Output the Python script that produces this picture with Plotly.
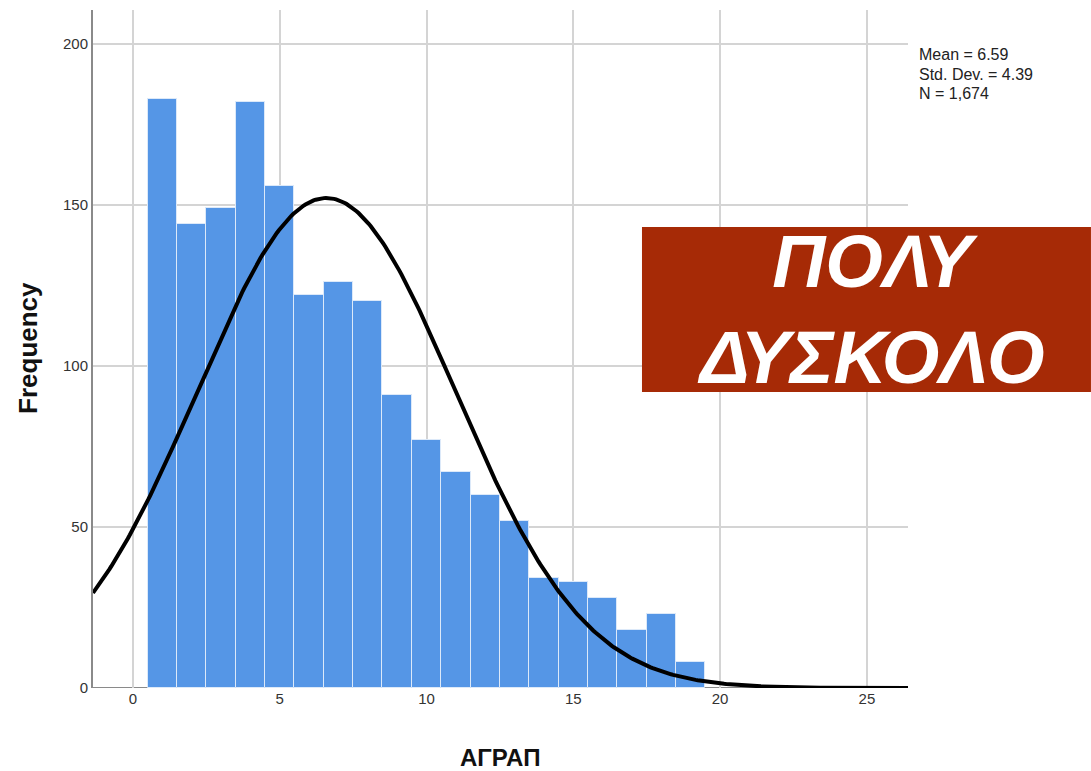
import numpy as np
import plotly.graph_objects as go

# Histogram data (bin centres, counts)
bin_centers = list(range(1, 20))
counts = [183, 144, 149, 182, 156, 122, 126, 120, 91, 77, 67, 60, 52, 34, 33, 28, 18, 23, 8]

# Summary statistics printed on the chart
mean_val = 6.59
sd_val = 4.39
n_val = 1674
stats_lines = ["Mean = 6.59", "Std. Dev. = 4.39", "N = 1,674"]

x_ticks = [0, 5, 10, 15, 20, 25]
y_ticks = [0, 50, 100, 150, 200]

x_range = [-1.36, 26.4]
y_range = [0, 210.5]

# Fitted normal curve (from stated mean / sd / N, bin width 1)
xc = np.linspace(x_range[0], x_range[1], 400)
yc = n_val * 1.0 / (sd_val * np.sqrt(2 * np.pi)) * np.exp(-0.5 * ((xc - mean_val) / sd_val) ** 2)

fig = go.Figure()
fig.add_trace(go.Bar(
    x=bin_centers, y=counts, width=1,
    marker=dict(color="#5596E6", line=dict(color="#DCE9F9", width=1)),
    hoverinfo="x+y",
))
fig.add_trace(go.Scatter(
    x=xc, y=yc, mode="lines",
    line=dict(color="black", width=4),
    hoverinfo="skip",
))

fig.update_layout(
    width=1091, height=771,
    margin=dict(l=93, r=183, t=10, b=83),
    plot_bgcolor="white", paper_bgcolor="white",
    showlegend=False,
    bargap=0,
    font=dict(family="Liberation Sans, Arial, sans-serif", color="#222"),
    xaxis=dict(
        range=x_range, tickvals=x_ticks, showgrid=True, gridcolor="#D4D4D4", gridwidth=1.5,
        zeroline=False, showline=False,
        tickfont=dict(size=15, color="#333"), ticks="",
    ),
    yaxis=dict(
        range=y_range, tickvals=y_ticks, showgrid=True, gridcolor="#D4D4D4", gridwidth=1.5,
        zeroline=False, showline=True, linecolor="#8A8A8A", linewidth=2,
        tickfont=dict(size=15, color="#333"), ticks="",
    ),
)

# bottom axis line at y=0
fig.add_shape(type="line", xref="paper", yref="y", x0=0, x1=1, y0=0, y1=0,
              line=dict(color="#8A8A8A", width=2), layer="below")

# axis titles
fig.add_annotation(xref="paper", yref="paper", x=0.4994, y=-0.1018,
                   xanchor="center", yanchor="middle", showarrow=False,
                   text="<b>ΑΓΡΑΠ</b>", font=dict(size=24, color="#111"))
fig.add_annotation(xref="paper", yref="paper", x=-0.0798, y=0.5015,
                   xanchor="center", yanchor="middle", showarrow=False, textangle=-90,
                   text="<b>Frequency</b>", font=dict(size=26, color="#111"))

# statistics text
for i, line in enumerate(stats_lines):
    fig.add_annotation(
        xref="paper", yref="paper", x=1.0115, y=(688 - 55 - 19 * i) / 678,
        xanchor="left", yanchor="middle", align="left", showarrow=False,
        text=line,
        font=dict(size=16, color="#222", family="Liberation Sans Narrow, Liberation Sans, Arial"),
    )

# red label box
fig.add_shape(type="rect", xref="paper", yref="paper",
              x0=0.6736, x1=1.2245, y0=0.4366, y1=0.680,
              fillcolor="#A62A06", line=dict(width=0), layer="above")
fig.add_annotation(
    xref="paper", yref="paper", x=(0.6736 + 1.2245) / 2 + 0.005, y=(0.4366 + 0.680) / 2,
    xanchor="center", yanchor="middle", showarrow=False,
    text="<b><i>ΠΟΛΥ<br>ΔΥΣΚΟΛΟ</i></b>",
    font=dict(size=74, color="white", family="Liberation Sans, Arial, sans-serif"),
)

fig.write_html("out.html", config={"displayModeBar": False},
               post_script="document.body.style.margin='0';")
